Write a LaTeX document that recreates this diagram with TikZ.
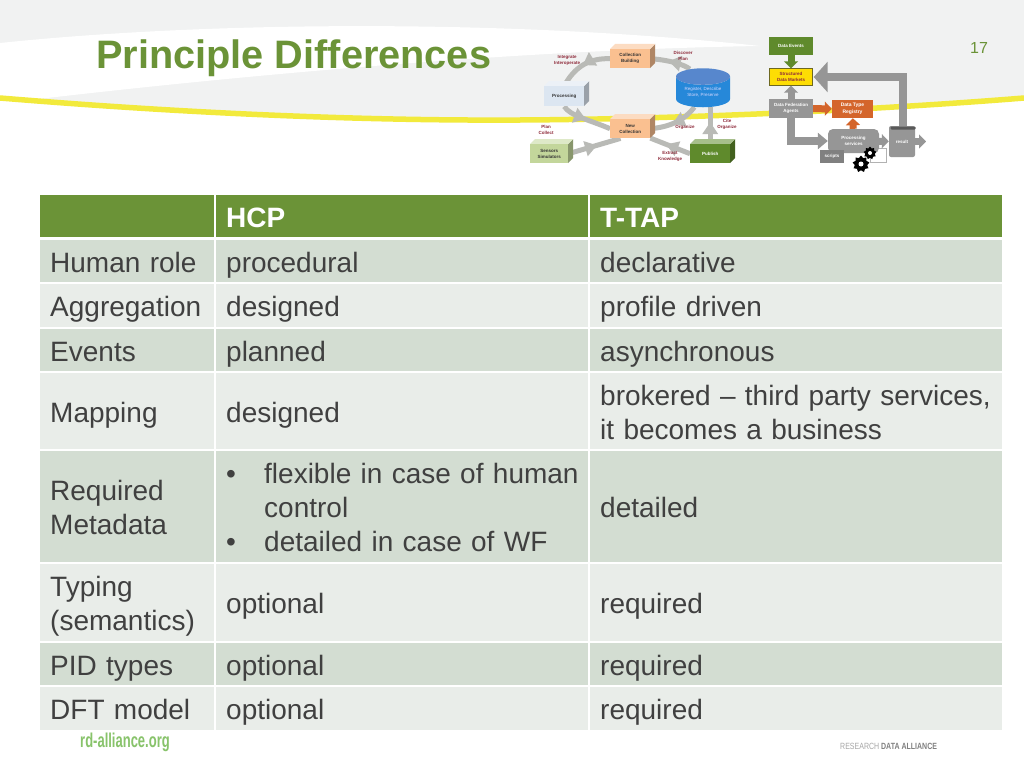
\documentclass[tikz,border=0pt]{standalone}
\usepackage{fontspec}
\setmainfont{Liberation Sans}
\usetikzlibrary{arrows.meta,backgrounds,decorations.markings,shapes.geometric}

\definecolor{titlegreen}{HTML}{6B9337}
\definecolor{rowdark}{HTML}{D3DDD2}
\definecolor{rowlight}{HTML}{E9EDE9}
\definecolor{celltext}{HTML}{404040}
\definecolor{swoosh}{HTML}{F1F2F2}
\definecolor{bandgray}{HTML}{B9BAB6}
\definecolor{blockgray}{HTML}{969696}
\definecolor{labelred}{HTML}{8E2A3A}
\definecolor{blockorange}{HTML}{D4652B}
\definecolor{boxorange}{HTML}{FAC090}
\definecolor{boxblue}{HTML}{DCE6F1}
\definecolor{boxsensor}{HTML}{C3D69B}
\definecolor{boxpublish}{HTML}{5F8A2C}
\definecolor{lineyellow}{HTML}{F2EA3C}

\newcommand{\solidbox}[7]{%
    \fill[#6!70!black] ({#2+#4},#3) -- ++(5,-5) -- ++(0,#5) -- ++(-5,5) -- cycle;
    \fill[#6!55!white] (#2,#3) -- ++(5,-5) -- ++(#4,0) -- ++(-5,5) -- cycle;
    \node[solid,fill=#6,minimum width=#4pt,minimum height=#5pt] (#1) at (#2,#3) {#7};
}

\begin{document}
\begin{tikzpicture}[
        x=1pt,y=-1pt,
        cell/.style={anchor=north west,inner xsep=10pt,inner ysep=0pt,align=left,text=celltext,
            font=\fontsize{28}{34}\selectfont,execute at begin node={\rule{0pt}{31.8pt}},execute at end node=\strut},
        solid/.style={anchor=north west,inner sep=0pt,align=center,text=black!80,font=\fontsize{4.5}{6}\selectfont\bfseries},
        flat/.style={inner sep=0pt,align=center,text=white,font=\fontsize{4.5}{6}\selectfont\bfseries},
        steplabel/.style={inner sep=0pt,align=center,text=labelred,font=\fontsize{4.5}{6}\selectfont\bfseries},
        ringflow/.style={line width=5pt,draw=bandgray,postaction={decorate},
            decoration={markings,mark=at position #1 with {\arrow{Triangle[length=12pt,width=15pt]}}}},
        block/.style={line width=7pt,draw=blockgray,-{Triangle[length=7pt,width=14pt]}}
    ]

    \useasboundingbox (0,0) rectangle (1024,768);

    \begin{scope}[on background layer]
        \fill[white] (0,0) rectangle (1024,768);
        \fill[swoosh] (0,0) -- (1024,0) -- (1024,98) .. controls (900,108) and (700,119) .. (520,120)
            .. controls (350,121) and (170,112) .. (0,98) -- cycle;
        \fill[white] (0,43) .. controls (200,22) and (500,18) .. (760,46)
            .. controls (500,50) and (200,80) .. (30,100) -- (0,98) -- cycle;
        \draw[line width=5.5pt,draw=lineyellow] (0,98) .. controls (170,112) and (350,121) .. (520,120)
            .. controls (700,119) and (900,108) .. (1024,98);
    \end{scope}

    \node[inner sep=0pt,anchor=base west,text=titlegreen,font=\fontsize{39.7}{48}\selectfont\bfseries] (title) at (96,68) {Principle Differences};
    \node[inner sep=0pt,text=titlegreen,font=\fontsize{16}{18}\selectfont] (pagenum) at (979,48) {17};

    % table
    \foreach \row/\ytop/\high/\shade/\cola/\colb/\colc in {
        a/240/42/rowdark/{Human role}/procedural/declarative,
        b/284/43/rowlight/Aggregation/designed/profile driven,
        c/329/42/rowdark/Events/planned/asynchronous,
        d/373/76/rowlight/Mapping/designed/{brokered -- third party services,\\it becomes a business},
        e/451/111/rowdark/{Required\\Metadata}/{\mbox{\makebox[38pt][l]{•}flexible in case of human}\\\hspace*{38pt}control\\\mbox{\makebox[38pt][l]{•}detailed in case of WF}}/detailed,
        f/564/77/rowlight/{Typing\\(semantics)}/optional/required,
        g/643/42/rowdark/PID types/optional/required,
        h/687/43/rowlight/DFT model/optional/required} {
        \node[cell,fill=\shade,text width=154pt,minimum height=\high pt] (\row1) at (40,\ytop) {\cola};
        \node[cell,fill=\shade,text width=352pt,minimum height=\high pt] (\row2) at (216,\ytop) {\colb};
        \node[cell,fill=\shade,text width=392pt,minimum height=\high pt] (\row3) at (590,\ytop) {\colc};
    }
    \node[cell,fill=titlegreen,text width=154pt,minimum height=42pt] (head1) at (40,195) {};
    \node[cell,fill=titlegreen,text width=352pt,minimum height=42pt,text=white,font=\fontsize{28}{34}\selectfont\bfseries] (head2) at (216,195) {HCP};
    \node[cell,fill=titlegreen,text width=392pt,minimum height=42pt,text=white,font=\fontsize{28}{34}\selectfont\bfseries] (head3) at (590,195) {T-TAP};

    % left diagram
    \solidbox{collection}{610}{49}{40}{19}{boxorange}{Collection\\Building}
    \solidbox{processing}{544}{86}{40}{20}{boxblue}{Processing}
    \solidbox{newcoll}{610}{119}{40}{19}{boxorange}{New\\Collection}
    \solidbox{sensors}{530}{144}{38}{19}{boxsensor}{Sensors\\Simulators}
    \solidbox{publish}{690}{144}{40}{19}{boxpublish}{\textcolor{white}{Publish}}
    \node[cylinder,shape border rotate=90,aspect=.45,cylinder uses custom fill,
        cylinder body fill=blue!45!cyan!70!gray,cylinder end fill=cyan!45!blue!70,
        minimum width=54pt,minimum height=39pt,inner sep=0pt,align=center,text=white!85!blue,
        font=\fontsize{4.5}{6}\selectfont] (registry) at (703,92) {Register, Describe\\Store, Preserve};

    \begin{scope}[on background layer]
        \draw[ringflow=.55] (registry.120) .. controls (685,65) and (670,60) .. (collection.east);
        \draw[ringflow=.5] (collection.west) .. controls (590,58) and (575,66) .. (processing.north);
        \draw[ringflow=.5] (processing.south) .. controls (570,116) and (590,120) .. (newcoll.west);
        \draw[ringflow=.55] (registry.240) .. controls (685,120) and (670,127) .. (newcoll.east);
        \draw[ringflow=.55] (sensors.east) -- (newcoll.225);
        \draw[ringflow=.6] (publish.west) -- (newcoll.335);
        \draw[ringflow=.6] (publish.north) -- (publish.north |- registry.south);
    \end{scope}

    \node[steplabel] (integrate) at (567,60) {Integrate\\Interoperate};
    \node[steplabel] (discover) at (683,56) {Discover\\Plan};
    \node[steplabel] (plancollect) at (546,130) {Plan\\Collect};
    \node[steplabel] (organize) at (685,127) {Organize};
    \node[steplabel] (extract) at (670,156) {Extract\\Knowledge};
    \node[steplabel] (cite) at (727,124) {Cite\\Organize};

    % right diagram
    \node[flat,fill=boxpublish,minimum width=44pt,minimum height=18pt] (events) at (791,46) {Data Events};
    \node[flat,draw=olive!70!black,fill=yellow!80!orange,text=labelred,minimum width=43pt,minimum height=17pt] (markets) at (791,77) {Structured\\Data Markets};
    \node[flat,fill=blockgray,minimum width=44pt,minimum height=19pt] (agents) at (791,108.5) {Data Federation\\Agents};
    \node[flat,fill=blockorange,font=\fontsize{5}{7}\selectfont\bfseries,minimum width=41pt,minimum height=18pt] (registrytype) at (852.5,109) {Data Type\\Registry};
    \node[draw=gray!60,fill=white,inner sep=0pt,minimum width=16pt,minimum height=14pt] (page) at (878,155) {};
    \node[flat,fill=blockgray,rounded corners=5pt,minimum width=51pt,minimum height=24pt] (services) at (853.5,141) {Processing\\services};
    \node[flat,fill=gray,minimum width=24pt,minimum height=13pt] (scripts) at (832,156.5) {scripts};
    \node[flat,fill=blockgray,rounded corners=2pt,minimum width=26pt,minimum height=31pt] (result) at (902,141.5) {result};
    \node[fill=gray!70!black,rounded corners=1pt,inner sep=0pt,minimum width=25pt,minimum height=3pt] (resulttop) at (903,128) {};
    \coordinate (resultout) at (926,141.5);
    \coordinate (bendup) at (903,77);
    \coordinate (benddown) at (791,141);
    \node[star,star points=9,star point ratio=1.35,fill=black,inner sep=0pt,minimum size=13pt] (gearsmall) at (870,153) {};
    \node[star,star points=9,star point ratio=1.35,fill=black,inner sep=0pt,minimum size=17pt] (gearbig) at (861,164) {};
    \node[circle,fill=white,inner sep=0pt,minimum size=4pt] (holesmall) at (gearsmall) {};
    \node[circle,fill=white,inner sep=0pt,minimum size=5pt] (holebig) at (gearbig) {};

    \draw[block,draw=boxpublish] (events) -- (markets);
    \draw[block] (agents) -- (markets);
    \draw[block,draw=blockorange] (agents) -- (registrytype);
    \draw[block,draw=blockorange] (services) -- (registrytype);
    \draw[block,line width=8pt,-{Triangle[length=10pt,width=16pt]}] (agents) -- (benddown) -- (services);
    \draw[block] (services) -- (result);
    \draw[block] (result) -- (resultout);
    \draw[block,line width=8pt,-{Triangle[length=14pt,width=30pt]},shorten >=1pt] (resulttop) -- (bendup) -- (markets);

    % footer
    \node[inner sep=0pt,anchor=base west,text=titlegreen!80!green!70!white,font=\fontsize{20}{22}\selectfont\bfseries] (rdsite) at (80,747) {\scalebox{.65}[1]{rd-alliance.org}};
    \node[inner sep=0pt,anchor=base west,text=gray!70,font=\fontsize{9}{10}\selectfont] (rdname) at (840,749) {\scalebox{.78}[1]{RESEARCH \textcolor{gray}{\textbf{DATA ALLIANCE}}}};

\end{tikzpicture}
\end{document}
